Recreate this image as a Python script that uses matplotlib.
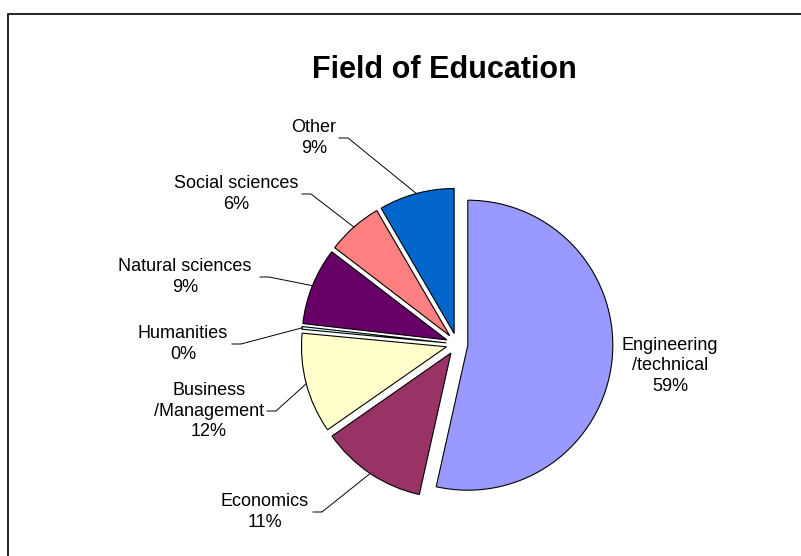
import matplotlib.pyplot as plt
import numpy as np
from matplotlib.patches import Rectangle

plt.rcParams['font.family'] = ['Liberation Sans', 'DejaVu Sans']

# data (clockwise from 12 o'clock)
categories = ["Engineering\n/technical", "Economics", "Business\n/Management",
              "Humanities", "Natural sciences", "Social sciences", "Other"]
shares = [53.5, 11.8, 11.2, 0.3, 8.6, 6.2, 8.4]
shown_pct = [59, 11, 12, 0, 9, 6, 9]
colors = ["#9999FF", "#993366", "#FFFFCC", "#CCFFFF", "#660066", "#FF8080", "#0066CC"]

# label layout in pixels: block centre x, block centre y, leader start x (None = no leader)
label_pos = [(670, 366, None), (265, 512, 313), (209, 411, 267),
             (183, 344, 232), (185, 277, 260), (236, 194, 302), (314, 138, 339)]

W, H = 801, 556
cx, cy, R = 457, 344, 145   # pie centre and radius in pixels


def pix(x, y):
    return (x - cx) / R, (cy - y) / R


fig = plt.figure(figsize=(W / 100, H / 100), dpi=100)
ax = fig.add_axes([0, 0, 1, 1])

wedges, _ = ax.pie(shares, colors=colors, startangle=90, counterclock=False,
                   explode=[0.075] * len(shares), radius=1,
                   wedgeprops=dict(edgecolor='black', linewidth=0.8))

# pie() resets the limits, so set them afterwards
ax.set_aspect('auto')
ax.set_xlim(-cx / R, (W - cx) / R)
ax.set_ylim(-(H - cy) / R, cy / R)
ax.axis('off')

for w, cat, pct, (lx, ly, sx) in zip(wedges, categories, shown_pct, label_pos):
    tx, ty = pix(lx, ly)
    ax.text(tx, ty, f"{cat}\n{pct}%", ha='center', va='center', fontsize=13,
            linespacing=1.3)
    if sx is not None:
        mid = np.deg2rad((w.theta1 + w.theta2) / 2)
        ax_, ay_ = w.center[0] + w.r * np.cos(mid), w.center[1] + w.r * np.sin(mid)
        x0, y0 = pix(sx, ly)
        x1, _ = pix(sx + 9, ly)
        ax.plot([x0, x1, ax_], [y0, y0, ay_], color='black', linewidth=0.7)

fig.text(444.5 / W, 1 - 70 / H, "Field of Education", ha='center', va='center',
         fontsize=22, fontweight='bold')

frame = Rectangle((7.5 / W, -0.1), 1.2, 1.1 - 13.5 / H, transform=fig.transFigure,
                  fill=False, edgecolor='black', linewidth=1.2, clip_on=False)
fig.add_artist(frame)

fig.savefig("out.png", dpi=100)
